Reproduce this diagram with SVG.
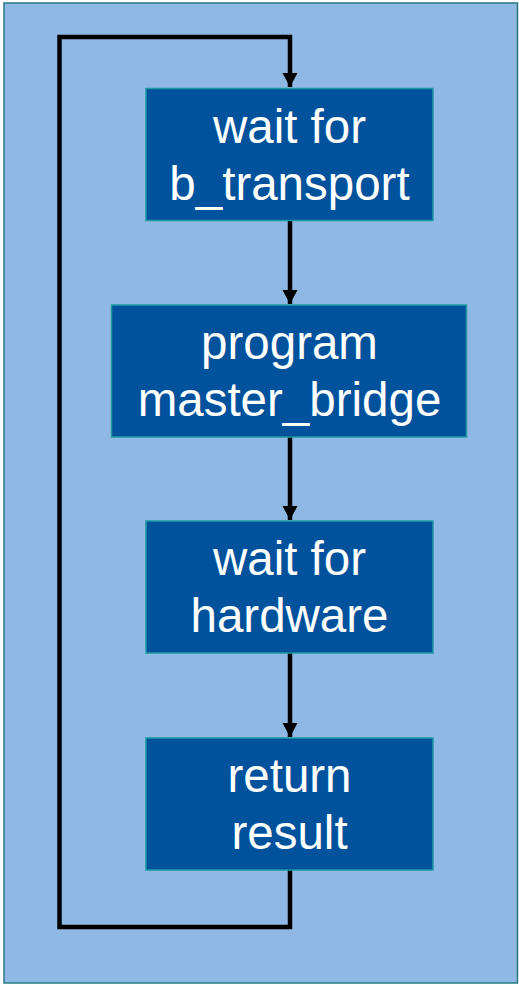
<svg xmlns="http://www.w3.org/2000/svg" width="519" height="985" viewBox="0 0 519 985">
<style>
.box{fill:#00529c;stroke:#1c9aa0;stroke-width:1.5}
.lbl{font-family:"Liberation Sans",Arial,sans-serif;font-size:47.5px;fill:#ffffff;text-anchor:middle}
.conn{fill:none;stroke:#000;stroke-width:4.5;stroke-linejoin:miter}
</style>
<defs>
<marker id="arr" markerUnits="userSpaceOnUse" markerWidth="16" markerHeight="16" refX="14" refY="8" orient="auto" viewBox="0 0 16 16">
<path d="M0,0.5 L14,8 L0,15.5 Z" fill="#000"/>
</marker>
</defs>
<rect x="4" y="3" width="513.5" height="980" fill="#8fb9e4" stroke="#2a7a84" stroke-width="1.5"/>
<g id="connectors">
<path class="conn" d="M290,221 V304" marker-end="url(#arr)"/>
<path class="conn" d="M290,437 V520" marker-end="url(#arr)"/>
<path class="conn" d="M290,653 V737" marker-end="url(#arr)"/>
<path class="conn" d="M290,870 V927 H59.5 V37 H290 V87" marker-end="url(#arr)"/>
</g>
<g id="n1">
<rect class="box" x="146" y="88.5" width="287" height="132"/>
<text class="lbl" x="289.5" y="143">wait for</text>
<text class="lbl" x="289.5" y="200">b_transport</text>
</g>
<g id="n2">
<rect class="box" x="111.5" y="305" width="355" height="132"/>
<text class="lbl" x="289.5" y="359">program</text>
<text class="lbl" x="289.5" y="416">master_bridge</text>
</g>
<g id="n3">
<rect class="box" x="146" y="521" width="287" height="132"/>
<text class="lbl" x="289.5" y="575">wait for</text>
<text class="lbl" x="289.5" y="632">hardware</text>
</g>
<g id="n4">
<rect class="box" x="146" y="738" width="287" height="132"/>
<text class="lbl" x="289.5" y="792">return</text>
<text class="lbl" x="289.5" y="849">result</text>
</g>
</svg>
